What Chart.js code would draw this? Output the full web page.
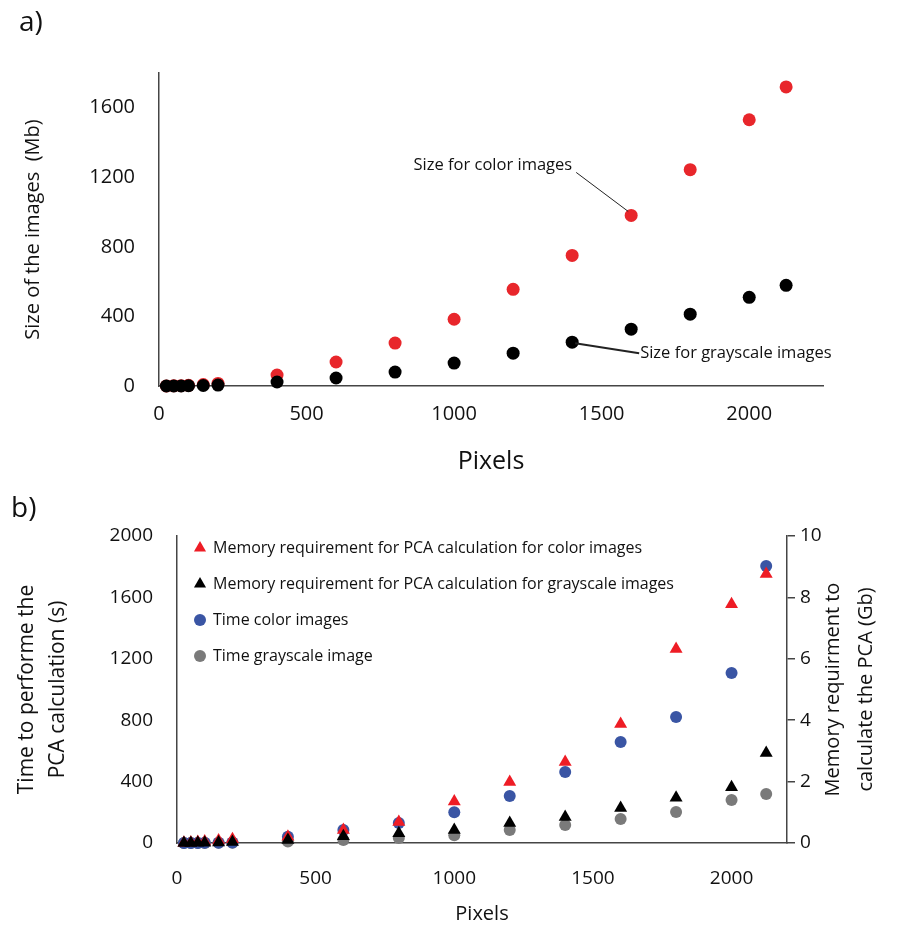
<!DOCTYPE html>
<html>
<head>
<meta charset="utf-8">
<script src="https://cdn.jsdelivr.net/npm/chart.js@4.4.1/dist/chart.umd.min.js"></script>
<style>
  html, body { margin: 0; padding: 0; background: #fff; }
  #wrap { position: relative; width: 917px; height: 926px; }
  canvas { position: absolute; left: 0; }
  #chartA { top: 0; }
  #chartB { top: 480px; }
  .tag { position: absolute; font: 28px/28px "Open Sans", sans-serif; color: #111; }
</style>
</head>
<body>
<div id="wrap">
  <canvas id="chartA" width="917" height="478"></canvas>
  <canvas id="chartB" width="917" height="446"></canvas>
  <div class="tag" style="left:19px;top:6px">a)</div>
  <div class="tag" style="left:11px;top:492px">b)</div>
</div>
<script>
// Image width in pixels (shared x values of both panels)
const pixels = [25, 50, 75, 100, 150, 200, 400, 600, 800, 1000, 1200, 1400, 1600, 1800, 2000, 2125];

// a) Size of the images (Mb)
const sizeColor = [0.2, 0.8, 1.8, 3.9, 8.7, 15, 63, 138, 247, 384, 556, 751, 981, 1244, 1531, 1720];
const sizeGray = [0.1, 0.3, 0.6, 1.3, 2.9, 5.1, 23, 46, 80, 132, 189, 252, 327, 413, 510, 579];

// b) Memory requirement (Gb, right axis) and time (s, left axis)
const memColor = [0.01, 0.02, 0.03, 0.05, 0.08, 0.12, 0.2, 0.42, 0.68, 1.35, 1.99, 2.64, 3.88, 6.32, 7.78, 8.76];
const memGray = [0, 0, 0.01, 0.01, 0.02, 0.03, 0.1, 0.22, 0.32, 0.42, 0.65, 0.85, 1.14, 1.47, 1.82, 2.93];
const timeColor = [0, 0, 0, 1, 2, 4, 40, 85, 130, 200, 306, 463, 658, 821, 1107, 1805];
const timeGray = [0, 0, 0, 0, 1, 2, 10, 20, 33, 50, 85, 117, 156, 202, 280, 319];

const labelsB = [
  'Memory requirement for PCA calculation for color images',
  'Memory requirement for PCA calculation for grayscale images',
  'Time color images',
  'Time grayscale image',
];

// tick values
const pixelTicks = [0, 500, 1000, 1500, 2000];
const sizeTicks = [0, 400, 800, 1200, 1600];
const timeTicks = [0, 400, 800, 1200, 1600, 2000];
const memTicks = [0, 2, 4, 6, 8, 10];

Chart.defaults.font.family = '"Open Sans", sans-serif';
Chart.defaults.color = '#111';

const axisColor = '#454545';
const toPoints = (values) => pixels.map((x, i) => ({ x, y: values[i] }));
const useTicks = (values) => (scale) => {
  scale.ticks = values.map(v => ({ value: v }));
};
const plain = (v) => String(v);

// Leader lines + labels next to the series in panel a
const calloutPlugin = {
  id: 'callouts',
  afterDatasetsDraw(chart) {
    const { ctx, scales: { x, y } } = chart;
    ctx.save();
    ctx.font = '16.5px "Open Sans", sans-serif';
    ctx.fillStyle = '#111';
    ctx.strokeStyle = '#222';
    ctx.textBaseline = 'middle';

    // color series, at 1600 px
    let i = pixels.indexOf(1600);
    let px = x.getPixelForValue(1600), py = y.getPixelForValue(sizeColor[i]);
    ctx.lineWidth = 1;
    ctx.beginPath();
    ctx.moveTo(px - 55, py - 43);
    ctx.lineTo(px - 3, py - 4);
    ctx.stroke();
    ctx.textAlign = 'right';
    ctx.fillText('Size for color images', px - 59, py - 50);

    // grayscale series, at 1400 px
    i = pixels.indexOf(1400);
    px = x.getPixelForValue(1400); py = y.getPixelForValue(sizeGray[i]);
    ctx.lineWidth = 2;
    ctx.beginPath();
    ctx.moveTo(px + 3, py + 1);
    ctx.lineTo(px + 67, py + 11);
    ctx.stroke();
    ctx.textAlign = 'left';
    ctx.fillText('Size for grayscale images', px + 68, py + 11);
    ctx.restore();
  }
};

// Legend inside the plot area + right axis title (reads bottom to top)
const panelBPlugin = {
  id: 'panelB',
  afterDraw(chart) {
    const { ctx, chartArea } = chart;
    ctx.save();
    ctx.font = '16px "Open Sans", sans-serif';
    ctx.textBaseline = 'middle';
    ctx.textAlign = 'left';
    chart.data.datasets.forEach((ds, i) => {
      const yy = chartArea.top + 12 + i * 36;
      ctx.fillStyle = ds.backgroundColor;
      ctx.strokeStyle = ds.backgroundColor;
      Chart.helpers.drawPoint(ctx, {
        pointStyle: ds.pointStyle,
        radius: ds.pointStyle === 'triangle' ? 7 : 6,
        borderWidth: 0,
        rotation: 0
      }, chartArea.left + 23, yy);
      ctx.fillStyle = '#111';
      ctx.fillText(ds.label, chartArea.left + 36, yy);
    });

    ctx.font = '20px "Open Sans", sans-serif';
    ctx.textAlign = 'center';
    ctx.translate(chartArea.right + 46, (chartArea.top + chartArea.bottom) / 2);
    ctx.rotate(-Math.PI / 2);
    ctx.fillText('Memory requirment to', 0, 0);
    ctx.fillText('calculate the PCA (Gb)', 0, 33);
    ctx.restore();
  }
};

const dotStyle = (color, radius, style) => ({
  backgroundColor: color,
  borderColor: color,
  pointBackgroundColor: color,
  pointBorderWidth: 0,
  pointRadius: radius,
  pointHoverRadius: radius,
  pointStyle: style,
  showLine: false,
  clip: false
});

// ---------- a) ----------
new Chart(document.getElementById('chartA'), {
  type: 'scatter',
  data: {
    datasets: [
      { label: 'Size for color images', data: toPoints(sizeColor), order: 1, ...dotStyle('#E8262B', 6.5, 'circle') },
      { label: 'Size for grayscale images', data: toPoints(sizeGray), order: 0, ...dotStyle('#000000', 6.5, 'circle') },
    ]
  },
  options: {
    responsive: false,
    animation: false,
    layout: { padding: { left: 0, right: 94, top: 73, bottom: 0 } },
    plugins: { legend: { display: false }, tooltip: { enabled: false } },
    scales: {
      x: {
        type: 'linear', min: 0, max: 2250,
        ticks: { padding: 16, font: { size: 20 }, maxRotation: 0, autoSkip: false, callback: plain },
        afterBuildTicks: useTicks(pixelTicks),
        afterFit: (s) => { s.height = 92; },
        grid: { display: false, drawTicks: false },
        border: { color: axisColor, width: 1.5 },
        title: { display: true, text: 'Pixels', font: { size: 25 }, padding: { top: 0, bottom: 1 } }
      },
      y: {
        min: 0, max: 1800,
        ticks: { padding: 24, font: { size: 20 }, autoSkip: false, callback: plain },
        afterBuildTicks: useTicks(sizeTicks),
        afterFit: (s) => { s.width = 159; },
        grid: { display: false, drawTicks: false },
        border: { color: axisColor, width: 1.5 },
        title: { display: true, text: 'Size of the images  (Mb)', font: { size: 20 }, padding: { top: 21, bottom: 0 } }
      }
    }
  },
  plugins: [calloutPlugin]
});

// ---------- b) ----------
new Chart(document.getElementById('chartB'), {
  type: 'scatter',
  data: {
    datasets: [
      { label: labelsB[0], data: toPoints(memColor), yAxisID: 'y2', order: 1, ...dotStyle('#EE1C25', 7.5, 'triangle') },
      { label: labelsB[1], data: toPoints(memGray), yAxisID: 'y2', order: 0, ...dotStyle('#000000', 7.5, 'triangle') },
      { label: labelsB[2], data: toPoints(timeColor), yAxisID: 'y', order: 2, ...dotStyle('#3A55A4', 6, 'circle') },
      { label: labelsB[3], data: toPoints(timeGray), yAxisID: 'y', order: 3, ...dotStyle('#7A7A7A', 6, 'circle') },
    ]
  },
  options: {
    responsive: false,
    animation: false,
    layout: { padding: { left: 0, right: 0, top: 56, bottom: 0 } },
    plugins: { legend: { display: false }, tooltip: { enabled: false } },
    scales: {
      x: {
        type: 'linear', min: 0, max: 2200,
        ticks: { padding: 24, font: { size: 19 }, maxRotation: 0, autoSkip: false, callback: plain },
        afterBuildTicks: useTicks(pixelTicks),
        afterFit: (s) => { s.height = 83; },
        grid: { display: false, drawTicks: false },
        border: { color: axisColor, width: 1.5 },
        title: { display: true, text: 'Pixels', font: { size: 20 }, padding: { top: 0, bottom: 0 } }
      },
      y: {
        position: 'left', min: 0, max: 2000,
        ticks: { padding: 24, font: { size: 19 }, autoSkip: false, callback: plain },
        afterBuildTicks: useTicks(timeTicks),
        afterFit: (s) => { s.width = 177; },
        grid: { display: false, drawTicks: false },
        border: { color: axisColor, width: 1.5 },
        title: {
          display: true,
          text: ['Time to performe the', 'PCA calculation (s)'],
          font: { size: 21, lineHeight: 1.5 },
          padding: { top: 11, bottom: 0 }
        }
      },
      y2: {
        position: 'right', min: 0, max: 10,
        ticks: { padding: 5, font: { size: 19 }, autoSkip: false, callback: plain },
        afterBuildTicks: useTicks(memTicks),
        afterFit: (s) => { s.width = 130; },
        grid: { display: true, drawOnChartArea: false, drawTicks: true, tickLength: 8, color: axisColor, lineWidth: 1.5 },
        border: { color: axisColor, width: 1.5 }
      }
    }
  },
  plugins: [panelBPlugin]
});
</script>
</body>
</html>
